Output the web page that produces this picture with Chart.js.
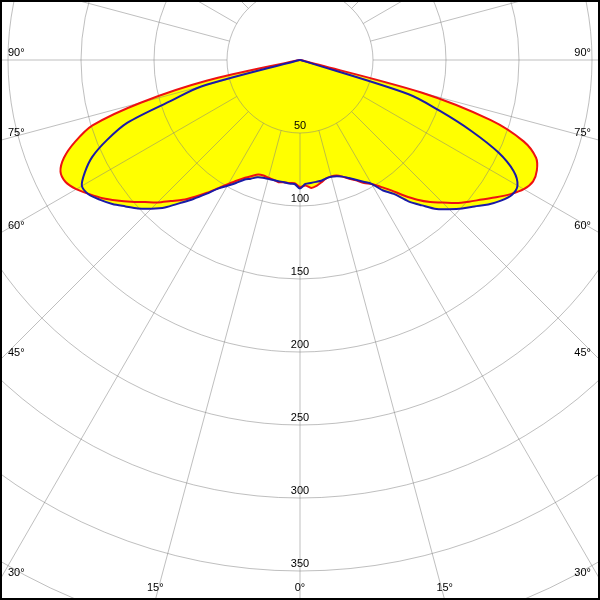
<!DOCTYPE html>
<html>
<head>
<meta charset="utf-8">
<script src="https://cdn.jsdelivr.net/npm/chart.js@4"></script>
<style>
  html, body { margin: 0; padding: 0; background: #fff; }
  #wrap { width: 600px; height: 600px; }
</style>
</head>
<body>
<div id="wrap"><canvas id="polar" width="600" height="600"></canvas></div>
<script>
// gamma angles (deg), negative = left half of the diagram
const gammaAngles = [
  -90, -87.5, -85, -82.5, -80, -77.5, -75, -72.5, -70, -67.5, -65, -62.5,
  -60, -57.5, -55, -52.5, -50, -47.5, -45, -42.5, -40, -37.5, -35, -32.5,
  -30, -27.5, -25, -22.5, -20, -17.5, -15, -12.5, -10, -7.5, -5, -2.5,
  0, 2.5, 5, 7.5, 10, 12.5, 15, 17.5, 20, 22.5, 25, 27.5,
  30, 32.5, 35, 37.5, 40, 42.5, 45, 47.5, 50, 52.5, 55, 57.5,
  60, 62.5, 65, 67.5, 70, 72.5, 75, 77.5, 80, 82.5, 85, 87.5, 90
]
// red curve
const planeRed = [
  0, 0, 0, 1, 3, 65, 113, 149, 164, 175, 181, 181,
  177, 171, 165, 158, 151, 144, 138, 131, 125, 118, 111, 104,
  98, 93, 89, 86, 83.5, 83, 83.5, 84, 85, 84.5, 84.5, 84.5,
  87, 86, 88, 87, 85, 83, 82.5, 83, 85, 88, 91, 95,
  98, 103, 109, 117, 125, 132, 138, 145, 151, 157, 164, 171,
  177, 180, 179, 175, 163, 137, 86, 3, 1, 0, 0, 0, 0
]
// blue curve
const planeBlue = [
  0, 0, 0, 0, 1, 3, 70, 92, 126, 143, 157, 166,
  172.5, 171.5, 167, 162, 156, 150.5, 144, 137, 128, 120, 112, 104.5,
  99.5, 95, 90.5, 88, 85.5, 84.5, 84.3, 84.2, 84.3, 84.4, 85, 85,
  88, 85, 84.5, 84.2, 84, 83, 82.8, 83.5, 85, 87.5, 90.5, 94,
  98, 106, 112, 122, 130, 138.5, 144.5, 150.5, 156, 162.5, 168, 172,
  172, 165, 150, 127, 102, 78, 3, 1, 0, 0, 0, 0, 0
]
const ringValues = [50, 100, 150, 200, 250, 300, 350, 400]
const ringLabels = ['50', '100', '150', '200', '250', '300', '350']
const angleLabels = [90, 75, 60, 45, 30, 15, 0]

// layout: centre at (300, 60), 73px per 50 units
const W = 600, H = 600, CY = 60, PX = 1.46

const toPoints = (vals) => gammaAngles.map((g, i) => {
  const t = g * Math.PI / 180
  return { x: vals[i] * Math.sin(t), y: -vals[i] * Math.cos(t) }
})

const polarGrid = {
  id: 'polarGrid',
  beforeDatasetsDraw(chart) {
    const { ctx, scales: { x, y } } = chart
    const cx = x.getPixelForValue(0), cy = y.getPixelForValue(0)
    const rad = (v) => x.getPixelForValue(v) - cx
    ctx.save()
    ctx.strokeStyle = 'rgba(128,128,128,0.5)'
    ctx.lineWidth = 1
    ringValues.forEach(v => {
      ctx.beginPath()
      ctx.arc(cx, cy, rad(v), 0, Math.PI * 2)
      ctx.stroke()
    })
    for (let a = 0; a < 360; a += 15) {
      const t = a * Math.PI / 180
      const s = Math.sin(t), c = Math.cos(t)
      ctx.beginPath()
      ctx.moveTo(cx + rad(50) * s, cy + rad(50) * c)
      ctx.lineTo(cx + rad(500) * s, cy + rad(500) * c)
      ctx.stroke()
    }
    ctx.restore()
  },
  afterDatasetsDraw(chart) {
    const { ctx, scales: { x, y } } = chart
    const cx = x.getPixelForValue(0), cy = y.getPixelForValue(0)
    const rad = (v) => x.getPixelForValue(v) - cx
    ctx.save()
    ctx.fillStyle = '#000'
    ctx.font = '11px "Liberation Sans", Arial, sans-serif'
    ctx.textBaseline = 'middle'
    ctx.textAlign = 'center'
    ringLabels.forEach(l => {
      ctx.fillText(l, cx, cy + rad(+l) - 7)
    })
    angleLabels.forEach(a => {
      const t = a * Math.PI / 180
      const txt = a + '°'
      if (a >= 30) {
        const ye = cy + cx * Math.cos(t) / Math.sin(t)
        ctx.textAlign = 'left'
        ctx.fillText(txt, 8, ye - 7)
        ctx.textAlign = 'right'
        ctx.fillText(txt, W - 9, ye - 7)
      } else {
        const dx = (H - cy) * Math.tan(t)
        ctx.textAlign = 'center'
        ctx.fillText(txt, cx - dx, H - 12)
        if (a > 0) ctx.fillText(txt, cx + dx, H - 12)
      }
    })
    ctx.restore()
  },
  afterDraw(chart) {
    const ctx = chart.ctx
    ctx.save()
    ctx.strokeStyle = '#000'
    ctx.lineWidth = 4
    ctx.strokeRect(0, 0, W, H)
    ctx.restore()
  }
}

const fillSet = (vals) => ({
  data: toPoints(vals), showLine: true, fill: 'shape',
  backgroundColor: '#ffff00', borderWidth: 0, borderColor: 'rgba(0,0,0,0)',
  pointRadius: 0, tension: 0.3
})
const lineSet = (vals, color) => ({
  data: toPoints(vals), showLine: true, fill: false,
  borderColor: color, borderWidth: 2, pointRadius: 0, tension: 0.3
})

new Chart(document.getElementById('polar'), {
  type: 'scatter',
  data: {
    datasets: [
      lineSet(planeBlue, '#1a1aa8'),
      lineSet(planeRed, '#ee1111'),
      fillSet(planeBlue),
      fillSet(planeRed)
    ]
  },
  options: {
    responsive: false,
    animation: false,
    layout: { padding: 0 },
    scales: {
      x: { type: 'linear', display: false, min: -(W / 2) / PX, max: (W / 2) / PX },
      y: { type: 'linear', display: false, min: -(H - CY) / PX, max: CY / PX }
    },
    plugins: {
      legend: { display: false },
      tooltip: { enabled: false },
      filler: { drawTime: 'beforeDatasetsDraw' }
    }
  },
  plugins: [polarGrid]
})
</script>
</body>
</html>
